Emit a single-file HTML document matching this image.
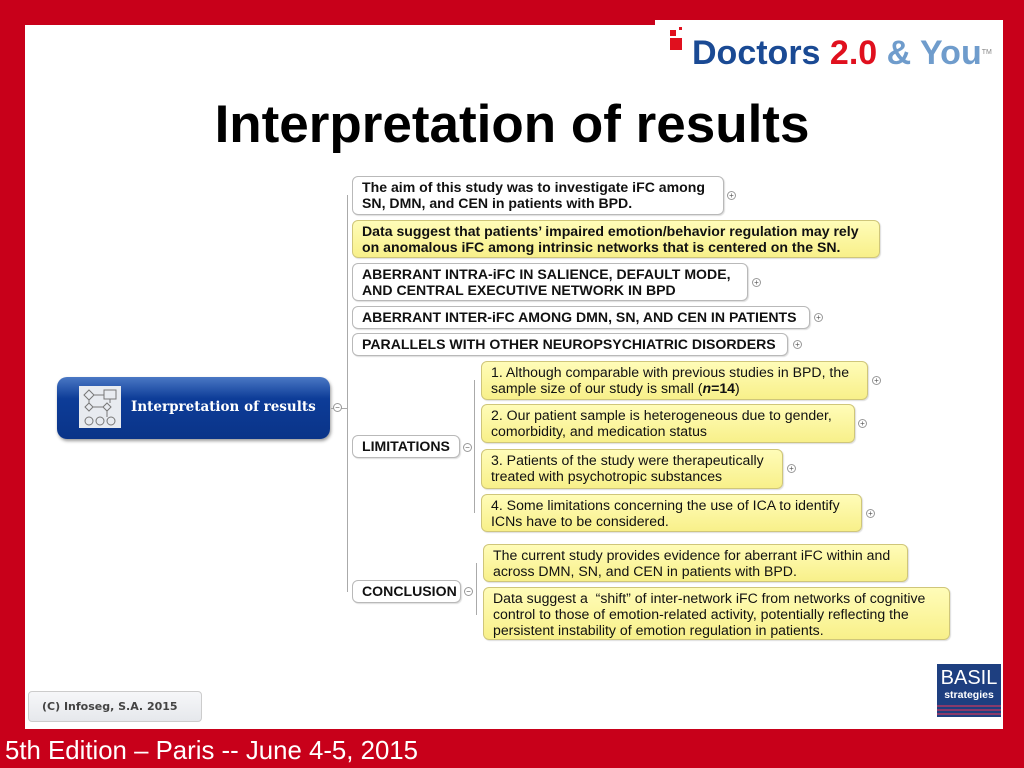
<!DOCTYPE html>
<html><head><meta charset="utf-8"><style>
*{margin:0;padding:0;box-sizing:border-box}
body{width:1024px;height:768px;background:#c8001a;position:relative;overflow:hidden;font-family:"Liberation Sans",Arial,sans-serif}
.abs{position:absolute}
.box{position:absolute;border:1px solid #b9b9b9;border-radius:6px;background:#fff;font-size:14.1px;line-height:16px;color:#111;padding:2px 9px;white-space:nowrap;box-shadow:1px 1px 1px #ddd}
.b{font-weight:bold}
.y{background:linear-gradient(#fffcb8,#f8f08a);border-color:#cfc67a}
.pm{position:absolute;width:9px;height:9px;border:1px solid #999;border-radius:50%;background:#fff;font-size:8px;line-height:7px;text-align:center;color:#555}
.ln{position:absolute;background:#aaa}
</style></head><body>
<div class="abs" style="left:25px;top:25px;width:978px;height:704px;background:#fff"></div>
<div class="abs" style="left:655px;top:20px;width:348px;height:60px;background:#fff"></div>
<div class="abs" style="left:668px;top:26px;width:330px;height:50px">
 <div class="abs" style="left:2px;top:4px;width:6px;height:6px;background:#e0101e"></div>
 <div class="abs" style="left:11px;top:1px;width:3px;height:3px;background:#e0101e"></div>
 <div class="abs" style="left:2px;top:12px;width:12px;height:12px;background:#e0101e"></div>
 <div class="abs" style="left:24px;top:7px;font-size:34px;font-weight:bold;white-space:nowrap;line-height:40px"><span style="color:#1a4a94">Doctors </span><span style="color:#e0101e">2.0 </span><span style="color:#6f9ccc">&amp; You</span><sup style="font-size:7px;color:#888;font-weight:normal;vertical-align:top">TM</sup></div>
</div>
<div class="abs" style="left:0;top:94px;width:1024px;text-align:center;font-size:53px;font-weight:bold;color:#000">Interpretation of results</div>

<div class="ln" style="left:347px;top:195px;width:1px;height:397px"></div>
<div class="ln" style="left:474px;top:380px;width:1px;height:133px"></div>
<div class="ln" style="left:476px;top:563px;width:1px;height:52px"></div>
<div class="ln" style="left:331px;top:408px;width:16px;height:1px"></div>

<div class="abs" style="left:57px;top:377px;width:273px;height:62px;border-radius:10px;background:linear-gradient(#4a78c4,#0d3c98 35%,#0a3488);box-shadow:1px 2px 3px #999">
 <svg class="abs" style="left:22px;top:9px" width="42" height="42" viewBox="0 0 42 42">
  <rect width="42" height="42" fill="#e8ebf0"/>
  <g fill="none" stroke="#777" stroke-width="1">
   <path d="M10 4 l5 5 l-5 5 l-5 -5z"/><rect x="25" y="4" width="12" height="9"/><path d="M10 17 l4 4 l-4 4 l-4 -4z"/><path d="M28 17 l4 4 l-4 4 l-4 -4z"/>
   <circle cx="10" cy="35" r="4"/><circle cx="21" cy="35" r="4"/><circle cx="32" cy="35" r="4"/>
   <path d="M15 9 H25 M10 14 V17 M14 21 H24 M31 13 V17 M28 25 V31"/>
  </g>
 </svg>
 <div class="abs" style="left:74px;top:22px;color:#fff;font-weight:bold;font-size:13.5px;font-family:'DejaVu Serif',serif;white-space:nowrap">Interpretation of results</div>
</div>
<div class="pm" style="left:333px;top:403px">−</div>

<div class="box b" style="left:352px;top:176px;width:372px;height:39px">The aim of this study was to investigate iFC among<br>SN, DMN, and CEN in patients with BPD.</div>
<div class="pm" style="left:727px;top:191px">+</div>
<div class="box b y" style="left:352px;top:220px;width:528px;height:38px">Data suggest that patients’ impaired emotion/behavior regulation may rely<br>on anomalous iFC among intrinsic networks that is centered on the SN.</div>
<div class="box b" style="left:352px;top:263px;width:396px;height:38px">ABERRANT INTRA-iFC IN SALIENCE, DEFAULT MODE,<br>AND CENTRAL EXECUTIVE NETWORK IN BPD</div>
<div class="pm" style="left:752px;top:278px">+</div>
<div class="box b" style="left:352px;top:306px;width:458px;height:23px">ABERRANT INTER-iFC AMONG DMN, SN, AND CEN IN PATIENTS</div>
<div class="pm" style="left:814px;top:313px">+</div>
<div class="box b" style="left:352px;top:333px;width:436px;height:23px">PARALLELS WITH OTHER NEUROPSYCHIATRIC DISORDERS</div>
<div class="pm" style="left:793px;top:340px">+</div>

<div class="box b" style="left:352px;top:435px;width:108px;height:23px">LIMITATIONS</div>
<div class="pm" style="left:463px;top:443px">−</div>
<div class="box y" style="left:481px;top:361px;width:387px;height:39px">1. Although comparable with previous studies in BPD, the<br>sample size of our study is small (<b><i>n</i>=14</b>)</div>
<div class="pm" style="left:872px;top:376px">+</div>
<div class="box y" style="left:481px;top:404px;width:374px;height:39px">2. Our patient sample is heterogeneous due to gender,<br>comorbidity, and medication status</div>
<div class="pm" style="left:858px;top:419px">+</div>
<div class="box y" style="left:481px;top:449px;width:302px;height:40px">3. Patients of the study were therapeutically<br>treated with psychotropic substances</div>
<div class="pm" style="left:787px;top:464px">+</div>
<div class="box y" style="left:481px;top:494px;width:381px;height:38px">4. Some limitations concerning the use of ICA to identify<br>ICNs have to be considered.</div>
<div class="pm" style="left:866px;top:509px">+</div>

<div class="box b" style="left:352px;top:580px;width:109px;height:23px">CONCLUSION</div>
<div class="pm" style="left:464px;top:587px">−</div>
<div class="box y" style="left:483px;top:544px;width:425px;height:38px">The current study provides evidence for aberrant iFC within and<br>across DMN, SN, and CEN in patients with BPD.</div>
<div class="box y" style="left:483px;top:587px;width:467px;height:53px;padding-top:2px">Data suggest a &nbsp;“shift” of inter-network iFC from networks of cognitive<br>control to those of emotion-related activity, potentially reflecting the<br>persistent instability of emotion regulation in patients.</div>

<div class="abs" style="left:28px;top:691px;width:174px;height:31px;border:1px solid #ccc;border-radius:4px;background:linear-gradient(#f6f7f9,#e6e8ec);font-family:'DejaVu Sans',sans-serif;font-weight:bold;font-size:11px;color:#444;padding:8px 0 0 13px">(C) Infoseg, S.A. 2015</div>

<div class="abs" style="left:937px;top:664px;width:64px;height:53px;background:#1e3f80;color:#fff;text-align:center">
 <div style="font-size:20px;line-height:22px;margin-top:3px">BASIL</div>
 <div style="font-size:10.5px;font-weight:bold;line-height:12px">strategies</div>
 <div style="height:2px;background:#8a3a6a;margin-top:4px"></div>
 <div style="height:2px;background:#8a3a6a;margin-top:2px"></div>
 <div style="height:2px;background:#8a3a6a;margin-top:2px"></div>
</div>

<div class="abs" style="left:5px;top:736px;font-size:25.8px;line-height:30px;color:#fff;white-space:nowrap">5th Edition – Paris -- June 4-5, 2015</div>
</body></html>
